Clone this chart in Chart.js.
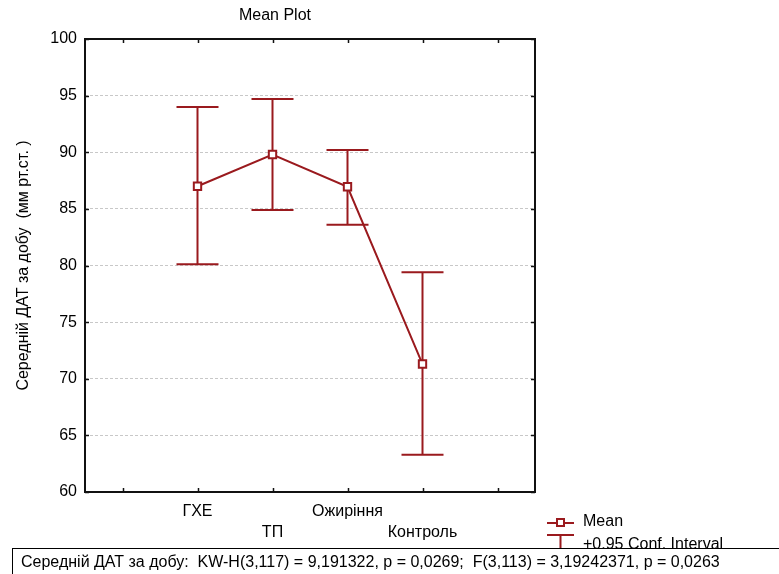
<!DOCTYPE html>
<html><head><meta charset="utf-8">
<script src="https://cdn.jsdelivr.net/npm/chart.js@4"></script>
<style>html,body{margin:0;padding:0;background:#fff;overflow:hidden}</style>
</head><body>
<canvas id="c" width="779" height="574" style="display:block;width:779px;height:574px"></canvas>
<script>
const categories = ['ГХЕ', 'ТП', 'Ожиріння', 'Контроль'];
const means = [87.0, 89.8, 86.95, 71.3];
const upper = [94.0, 94.7, 90.2, 79.4];
const lower = [80.1, 84.9, 83.6, 63.3];
const yTicks = [60, 65, 70, 75, 80, 85, 90, 95, 100];
const chartTitle = 'Mean Plot';
const yTitle = 'Середній ДАТ за добу  (мм рт.ст. )';
const legendLabels = ['Mean', '+0.95 Conf. Interval'];
const footnote = 'Середній ДАТ за добу:  KW-H(3,117) = 9,191322, p = 0,0269;  F(3,113) = 3,19242371, p = 0,0263';

const RED = '#9a1a1e';
const FONT = 'Liberation Sans, Arial, sans-serif';
const FS = 16;

const slotLabels = [''].concat(categories, ['']);
const slotMeans = [null].concat(means, [null]);

const errorBars = {
  id: 'errorBars',
  beforeDatasetsDraw(chart) {
    const ctx = chart.ctx, xs = chart.scales.x, ys = chart.scales.y;
    ctx.save();
    ctx.strokeStyle = RED; ctx.lineWidth = 2;
    categories.forEach((c, i) => {
      const x = xs.getPixelForValue(i + 1);
      const yu = ys.getPixelForValue(upper[i]);
      const yl = ys.getPixelForValue(lower[i]);
      ctx.beginPath();
      ctx.moveTo(x, yu); ctx.lineTo(x, yl);
      ctx.moveTo(x - 21, yu); ctx.lineTo(x + 21, yu);
      ctx.moveTo(x - 21, yl); ctx.lineTo(x + 21, yl);
      ctx.stroke();
    });
    ctx.restore();
  }
};

const frame = {
  id: 'frame',
  beforeDatasetsDraw(chart) {
    const ctx = chart.ctx, a = chart.chartArea, xs = chart.scales.x, ys = chart.scales.y;
    ctx.save();
    ctx.strokeStyle = '#111'; ctx.lineWidth = 1.5;
    ctx.beginPath();
    yTicks.forEach(v => {
      const y = Math.round(ys.getPixelForValue(v)) + 0.5;
      ctx.moveTo(a.left, y); ctx.lineTo(a.left + 4, y);
      ctx.moveTo(a.right, y); ctx.lineTo(a.right - 4, y);
    });
    slotLabels.forEach((l, i) => {
      const x = Math.round(xs.getPixelForValue(i)) + 0.5;
      ctx.moveTo(x, a.top); ctx.lineTo(x, a.top + 4);
      ctx.moveTo(x, a.bottom); ctx.lineTo(x, a.bottom - 4);
    });
    ctx.stroke();
    ctx.lineWidth = 2;
    ctx.strokeRect(a.left, a.top, a.right - a.left, a.bottom - a.top);
    ctx.restore();
  }
};

const decor = {
  id: 'decor',
  afterDraw(chart) {
    const ctx = chart.ctx;
    ctx.save();
    ctx.fillStyle = '#000';
    ctx.font = FS + 'px ' + FONT;
    ctx.textBaseline = 'middle';
    ctx.textAlign = 'center';
    ctx.fillText(chartTitle, 275, 16);
    // legend
    ctx.textAlign = 'left';
    ctx.strokeStyle = RED; ctx.lineWidth = 2;
    ctx.beginPath(); ctx.moveTo(547, 523); ctx.lineTo(574, 523); ctx.stroke();
    ctx.fillStyle = '#fff';
    ctx.fillRect(557, 519, 7, 7);
    ctx.strokeRect(557, 519, 7, 7);
    ctx.beginPath();
    ctx.moveTo(547, 535); ctx.lineTo(574, 535);
    ctx.moveTo(560.5, 535); ctx.lineTo(560.5, 550);
    ctx.stroke();
    ctx.fillStyle = '#000';
    ctx.fillText(legendLabels[0], 583, 522);
    ctx.fillText(legendLabels[1], 583, 545);
    // footnote box
    ctx.fillStyle = '#fff';
    ctx.fillRect(12, 548, 800, 40);
    ctx.strokeStyle = '#000'; ctx.lineWidth = 1;
    ctx.strokeRect(12.5, 548.5, 800, 40);
    ctx.fillStyle = '#000';
    ctx.fillText(footnote, 21, 563);
    ctx.restore();
  }
};

new Chart(document.getElementById('c'), {
  type: 'line',
  data: {
    labels: slotLabels,
    datasets: [{
      label: legendLabels[0],
      data: slotMeans,
      borderColor: RED,
      borderWidth: 2,
      pointStyle: 'rect',
      pointRadius: 5.2,
      pointBorderWidth: 2,
      pointBackgroundColor: '#fff',
      pointBorderColor: RED,
      spanGaps: false,
      tension: 0
    }]
  },
  options: {
    responsive: false,
    animation: false,
    devicePixelRatio: 1,
    layout: { padding: { left: 0, right: 244, top: 39, bottom: 0 } },
    plugins: { legend: { display: false }, title: { display: false }, tooltip: { enabled: false } },
    scales: {
      x: {
        type: 'category',
        offset: true,
        grid: { display: false, drawTicks: false },
        border: { display: false },
        ticks: {
          autoSkip: false, maxRotation: 0, minRotation: 0, padding: 9.5,
          color: '#000', font: { family: FONT, size: FS, lineHeight: 1.3 },
          callback: (v, i) => {
            const l = slotLabels[i];
            if (!l) return '';
            return (i % 2 === 1) ? [l, ''] : ['', l];
          }
        },
        afterFit(s) { s.height = 82; }
      },
      y: {
        min: 60, max: 100,
        afterBuildTicks(s) { s.ticks = yTicks.map(v => ({ value: v })); },
        grid: { color: '#c8c8c8', lineWidth: 1, drawTicks: false },
        border: { display: false, dash: [3, 2] },
        ticks: { padding: 8, color: '#000', font: { family: FONT, size: FS } },
        title: { display: true, text: yTitle, color: '#000', font: { family: FONT, size: FS }, padding: { top: 14, bottom: 0 } },
        afterFit(s) { s.width = 85; }
      }
    }
  },
  plugins: [frame, errorBars, decor]
});
</script>
</body></html>
